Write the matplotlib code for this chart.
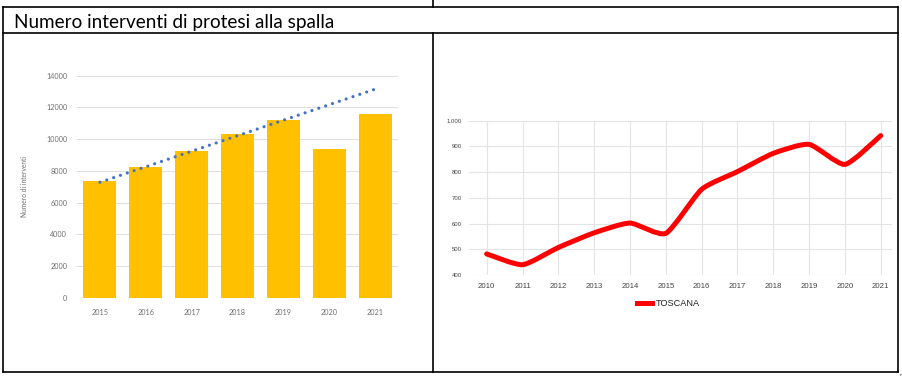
import numpy as np
import matplotlib
matplotlib.use("Agg")
import matplotlib.pyplot as plt
from matplotlib.lines import Line2D
from matplotlib.path import Path
from matplotlib.patches import PathPatch

# left chart: shoulder prosthesis operations (bars) + trend line
bar_years = ['2015', '2016', '2017', '2018', '2019', '2020', '2021']
bar_values = [7330, 8230, 9270, 10320, 11210, 9380, 11590]
trend_ends = [7280, 13150]  # trend line value at first and last year

# right chart: TOSCANA line
line_years = [2010, 2011, 2012, 2013, 2014, 2015, 2016, 2017, 2018, 2019, 2020, 2021]
line_values = [482, 440, 507, 564, 602, 562, 733, 802, 873, 908, 830, 942]

title = "Numero interventi di protesi alla spalla"

W, H = 903, 376
fig = plt.figure(figsize=(W / 100, H / 100), dpi=100)
fig.patch.set_facecolor('white')


def box(x0, y0, x1, y1):
    # pixel box (top-left origin) -> figure fraction rect
    return [x0 / W, 1 - y1 / H, (x1 - x0) / W, (y1 - y0) / H]


def hline(y, x0, x1, **kw):
    fig.add_artist(Line2D([x0 / W, x1 / W], [1 - y / H, 1 - y / H], transform=fig.transFigure, **kw))


def vline(x, y0, y1, **kw):
    fig.add_artist(Line2D([x / W, x / W], [1 - y0 / H, 1 - y1 / H], transform=fig.transFigure, **kw))


# table borders
tk = dict(color='black', lw=1.2, solid_capstyle='projecting')
hline(7, 3, 898, **tk)
hline(33, 3, 898, **tk)
hline(372, 3, 898, **tk)
vline(3, 7, 372, **tk)
vline(898, 7, 372, **tk)
vline(433, 0, 7, **tk)
vline(433, 33, 372, **tk)
gk = dict(color='#a0a0a0', lw=0.8)
vline(900.5, 373.5, 376, **gk)
hline(373.5, 900.5, 903, **gk)

fig.text(14 / W, 1 - 28 / H, title, fontsize=13.6, family='Lato', color='black', va='baseline', ha='left')

# ---- left chart ----
ax1 = fig.add_axes(box(77, 75.7, 398, 297.7))
x = np.arange(len(bar_years))
ax1.bar(x, bar_values, width=0.72, color='#FFC000', zorder=2)
ax1.plot([x[0], x[-1]], trend_ends, color='#4472C4', lw=2.3,
         linestyle=(0, (0.01, 2.25)), dash_capstyle='round', zorder=3)
ax1.set_xlim(-0.5, len(bar_years) - 0.5)
ax1.set_ylim(0, 14000)
ax1.set_yticks(np.arange(0, 14001, 2000))
ax1.set_xticks(x)
ax1.set_xticklabels(bar_years)
ax1.grid(axis='y', color='#d9d9d9', lw=0.6, zorder=0)
for s in ax1.spines.values():
    s.set_visible(False)
ax1.tick_params(length=0, labelsize=5.2, labelcolor='#6f6f6f', pad=7)
ax1.tick_params(axis='x', pad=8)
for lab in ax1.get_xticklabels() + ax1.get_yticklabels():
    lab.set_family('Lato')
ax1.set_ylabel('Numero di interventi', fontsize=4.8, color='#6f6f6f', family='Lato', labelpad=13)

# ---- right chart ----
ax2 = fig.add_axes(box(469, 120.7, 891.7, 275))
ax2.set_xlim(2009.506, 2021.307)
ax2.set_ylim(400, 1000)
ax2.set_xticks(line_years)
ax2.set_yticks(np.arange(400, 1001, 100))
ax2.set_yticklabels(['400', '500', '600', '700', '800', '900', '1.000'])
ax2.grid(True, color='#e4e4e4', lw=0.8, zorder=0)
for s in ax2.spines.values():
    s.set_visible(False)
ax2.tick_params(length=0, labelcolor='#444444', pad=5)
ax2.tick_params(axis='x', labelsize=5.6, pad=6)
ax2.tick_params(axis='y', labelsize=4.3)
for lab in ax2.get_xticklabels() + ax2.get_yticklabels():
    lab.set_family('Liberation Sans')

# smooth curve through the points (cubic bezier, catmull-rom style tangents)
pts = np.column_stack([line_years, line_values]).astype(float)
t = 0.1
verts = [pts[0]]
codes = [Path.MOVETO]
n = len(pts)
for i in range(n - 1):
    p0 = pts[i - 1] if i > 0 else pts[i]
    p1 = pts[i]
    p2 = pts[i + 1]
    p3 = pts[i + 2] if i + 2 < n else pts[i + 1]
    verts += [p1 + t * (p2 - p0), p2 - t * (p3 - p1), p2]
    codes += [Path.CURVE4] * 3
ax2.add_patch(PathPatch(Path(verts, codes), fill=False, edgecolor='#FF0000', lw=3.6,
                        capstyle='round', joinstyle='round', zorder=3))

fig.legend(handles=[Line2D([], [], color='#FF0000', lw=3.6)], labels=['TOSCANA'],
           loc='center left', bbox_to_anchor=(637 / W, 1 - 304 / H), frameon=False,
           borderaxespad=0, borderpad=0, handlelength=1.6, handletextpad=0.45,
           prop={'family': 'Liberation Sans', 'size': 6.6}, labelcolor='#222222')

fig.savefig('out.png', dpi=100)
